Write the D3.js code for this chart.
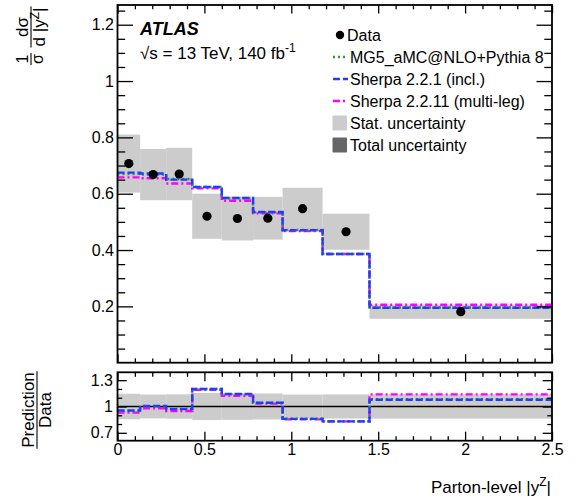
<!DOCTYPE html>
<html>
<head>
<meta charset="utf-8">
<script src="https://cdn.jsdelivr.net/npm/d3@7"></script>
<style>
  body { margin: 0; background: #fff; }
  svg { display: block; }
  text { font-family: "Liberation Sans", Arial, Helvetica, sans-serif; fill: #000; }
</style>
</head>
<body>
<svg id="chart" width="576" height="503"></svg>
<script>
// ---- values ----
const binEdges = [0, 0.13, 0.28, 0.43, 0.6, 0.78, 0.95, 1.18, 1.45, 2.5];
const dataValues = [0.707, 0.668, 0.670, 0.520, 0.512, 0.513, 0.547, 0.465, 0.181];
const statUncertainty = [0.103, 0.091, 0.093, 0.080, 0.078, 0.076, 0.074, 0.064, 0.025];
const mg5Values = [0.670, 0.668, 0.652, 0.624, 0.584, 0.534, 0.471, 0.386, 0.196];
const sherpa221Values = [0.675, 0.672, 0.650, 0.624, 0.585, 0.535, 0.470, 0.386, 0.195];
const sherpa2211Values = [0.658, 0.655, 0.636, 0.619, 0.575, 0.530, 0.467, 0.386, 0.206];
const xTickValues = [0, 0.5, 1, 1.5, 2, 2.5];
const mainYTickValues = [0.2, 0.4, 0.6, 0.8, 1, 1.2];
const ratioYTickValues = [0.7, 1, 1.3];
const legendLabels = ["Data", "MG5_aMC@NLO+Pythia 8", "Sherpa 2.2.1 (incl.)",
                      "Sherpa 2.2.11 (multi-leg)", "Stat. uncertainty", "Total uncertainty"];

// ---- layout ----
const L = 117.5, R = 552;
const mainTop = 5, mainBottom = 362.7;
const ratioTop = 372.3, ratioBottom = 440.7;

const svg = d3.select("#chart");

const x = d3.scaleLinear().domain([0, 2.5]).range([L, R]);
const y = d3.scaleLinear().domain([0, 1.27]).range([mainBottom, mainTop]);
const yr = d3.scaleLinear().domain([0.61, 1.39]).range([ratioBottom, ratioTop]);

const bins = dataValues.map((v, i) => ({
  lo: binEdges[i], hi: binEdges[i + 1], mid: (binEdges[i] + binEdges[i + 1]) / 2,
  v, err: statUncertainty[i]
}));

const series = [
  { name: "sherpa2211", values: sherpa2211Values, color: "#ff00ff", dash: "7,3,2,3" },
  { name: "mg5", values: mg5Values, color: "#2f9a2f", dash: "2,3" },
  { name: "sherpa221", values: sherpa221Values, color: "#1f3cff", dash: "7,3" }
];

function stepPoints(values) {
  const pts = values.map((v, i) => [binEdges[i], v]);
  pts.push([binEdges[binEdges.length - 1], values[values.length - 1]]);
  return pts;
}

// ---- main panel ----
const main = svg.append("g");
main.selectAll("rect.stat").data(bins).join("rect")
  .attr("class", "stat")
  .attr("x", d => x(d.lo)).attr("width", d => x(d.hi) - x(d.lo))
  .attr("y", d => y(d.v + d.err)).attr("height", d => y(d.v - d.err) - y(d.v + d.err))
  .attr("fill", "#cccccc");

const mainLine = d3.line().x(d => x(d[0])).y(d => y(d[1])).curve(d3.curveStepAfter);
series.forEach(s => {
  main.append("path").attr("d", mainLine(stepPoints(s.values)))
    .attr("fill", "none").attr("stroke", s.color).attr("stroke-width", 2.4)
    .attr("stroke-dasharray", s.dash);
});

main.selectAll("circle.pt").data(bins).join("circle")
  .attr("class", "pt")
  .attr("cx", d => x(d.mid)).attr("cy", d => y(d.v)).attr("r", 4.6).attr("fill", "#000");

// ---- ratio panel ----
const ratio = svg.append("g");
ratio.selectAll("rect.band").data(bins).join("rect")
  .attr("x", d => x(d.lo)).attr("width", d => x(d.hi) - x(d.lo))
  .attr("y", d => yr(1 + d.err / d.v)).attr("height", d => yr(1 - d.err / d.v) - yr(1 + d.err / d.v))
  .attr("fill", "#cccccc");

ratio.append("line").attr("x1", x(0)).attr("x2", x(2.5))
  .attr("y1", yr(1)).attr("y2", yr(1)).attr("stroke", "#000").attr("stroke-width", 1.4);

const ratioLine = d3.line().x(d => x(d[0])).y(d => yr(d[1])).curve(d3.curveStepAfter);
series.forEach(s => {
  const r = s.values.map((v, i) => v / dataValues[i]);
  ratio.append("path").attr("d", ratioLine(stepPoints(r)))
    .attr("fill", "none").attr("stroke", s.color).attr("stroke-width", 2.4)
    .attr("stroke-dasharray", s.dash);
});

// ---- axes ----
const minor = (lo, hi, step, majors) =>
  d3.range(Math.round(lo / step), Math.round(hi / step) + 1).map(k => +(k * step).toFixed(4))
    .filter(v => !majors.some(m => Math.abs(m - v) < 1e-6));

const xMinor = minor(0, 2.5, 0.1, xTickValues);
const yMinor = minor(0.05, 1.25, 0.05, mainYTickValues);
const yrMinor = minor(0.8, 1.2, 0.1, ratioYTickValues);
const fmt = d3.format("~g");

function addAxis(gen, tx, ty) {
  const g = svg.append("g").attr("transform", `translate(${tx},${ty})`).call(gen);
  g.select(".domain").remove();
  g.selectAll(".tick line").attr("stroke", "#000").attr("stroke-width", 1.3);
  g.selectAll("text").attr("font-family", "Liberation Sans, Arial, sans-serif").attr("fill", "#000");
  return g;
}

// main panel ticks
addAxis(d3.axisBottom(x).tickValues(xTickValues).tickSize(-8.5).tickFormat(""), 0, mainBottom);
addAxis(d3.axisBottom(x).tickValues(xMinor).tickSize(-4.3).tickFormat(""), 0, mainBottom);
addAxis(d3.axisTop(x).tickValues(xTickValues).tickSize(-8.5).tickFormat(""), 0, mainTop);
addAxis(d3.axisTop(x).tickValues(xMinor).tickSize(-4.3).tickFormat(""), 0, mainTop);
addAxis(d3.axisLeft(y).tickValues(mainYTickValues).tickSize(-15.5).tickPadding(3.5).tickFormat(fmt), L, 0)
  .attr("font-size", 16);
addAxis(d3.axisLeft(y).tickValues(yMinor).tickSize(-7.7).tickFormat(""), L, 0);
addAxis(d3.axisRight(y).tickValues(mainYTickValues).tickSize(-15.5).tickFormat(""), R, 0);
addAxis(d3.axisRight(y).tickValues(yMinor).tickSize(-7.7).tickFormat(""), R, 0);

// ratio panel ticks
addAxis(d3.axisBottom(x).tickValues(xTickValues).tickSize(-9).tickPadding(3).tickFormat(fmt), 0, ratioBottom)
  .attr("font-size", 16);
addAxis(d3.axisBottom(x).tickValues(xMinor).tickSize(-4.5).tickFormat(""), 0, ratioBottom);
addAxis(d3.axisTop(x).tickValues(xTickValues).tickSize(-9).tickFormat(""), 0, ratioTop);
addAxis(d3.axisTop(x).tickValues(xMinor).tickSize(-4.5).tickFormat(""), 0, ratioTop);
addAxis(d3.axisLeft(yr).tickValues(ratioYTickValues).tickSize(-9.3).tickPadding(4.5).tickFormat(fmt), L, 0)
  .attr("font-size", 16);
addAxis(d3.axisLeft(yr).tickValues(yrMinor).tickSize(-4.7).tickFormat(""), L, 0);
addAxis(d3.axisRight(yr).tickValues(ratioYTickValues).tickSize(-9.3).tickFormat(""), R, 0);
addAxis(d3.axisRight(yr).tickValues(yrMinor).tickSize(-4.7).tickFormat(""), R, 0);

// frames
[[mainTop, mainBottom], [ratioTop, ratioBottom]].forEach(([t, b]) => {
  svg.append("rect").attr("x", L).attr("y", t).attr("width", R - L).attr("height", b - t)
    .attr("fill", "none").attr("stroke", "#000").attr("stroke-width", 1.8);
});

// ---- labels ----
svg.append("text").attr("x", 140).attr("y", 35)
  .attr("font-size", 18).attr("font-weight", "bold").attr("font-style", "italic").text("ATLAS");

const lumi = svg.append("text").attr("x", 140).attr("y", 59).attr("font-size", 17);
lumi.append("tspan").text("√s = 13 TeV, 140 fb");
lumi.append("tspan").attr("dy", -7).attr("font-size", 12).text("-1");

// legend
const leg = svg.append("g");
const rowY = i => 35 + i * 22;
leg.append("circle").attr("cx", 340).attr("cy", rowY(0)).attr("r", 4.2).attr("fill", "#000");
[series[1], series[2], series[0]].forEach((s, k) => {
  leg.append("line").attr("x1", 333).attr("x2", 348).attr("y1", rowY(k + 1)).attr("y2", rowY(k + 1))
    .attr("stroke", s.color).attr("stroke-width", 2.4).attr("stroke-dasharray", s.dash);
});
leg.append("rect").attr("x", 332.5).attr("y", rowY(4) - 7.5).attr("width", 14.5).attr("height", 15)
  .attr("fill", "#cccccc").attr("rx", 1);
leg.append("rect").attr("x", 332.5).attr("y", rowY(5) - 7.5).attr("width", 14.5).attr("height", 15)
  .attr("fill", "#666666").attr("rx", 1);
legendLabels.forEach((t, i) => {
  leg.append("text").attr("x", i === 0 ? 347 : 350).attr("y", rowY(i)).attr("dy", "0.36em")
    .attr("font-size", 16).text(t);
});

// fraction helper for rotated titles
function fraction(g, cx, num, den, size, gap) {
  const n = g.append("text").attr("x", cx).attr("y", -gap[0]).attr("text-anchor", "middle").attr("font-size", size);
  num(n);
  const d = g.append("text").attr("x", cx).attr("y", gap[1]).attr("text-anchor", "middle").attr("font-size", size);
  den(d);
  const w = Math.max(n.node().getComputedTextLength(), d.node().getComputedTextLength()) + 2;
  g.append("line").attr("x1", cx - w / 2).attr("x2", cx + w / 2).attr("y1", 0).attr("y2", 0)
    .attr("stroke", "#000").attr("stroke-width", 1.1);
}

// main y title: (1/σ) dσ/d|y^Z|
const yTitle = svg.append("g").attr("transform", "translate(31,59) rotate(-90)");
fraction(yTitle, 0, t => t.text("1"), t => t.text("σ"), 16, [3, 12]);
fraction(yTitle, 32, t => t.text("dσ"), t => {
  t.append("tspan").text("d |y");
  t.append("tspan").attr("dy", -6).attr("font-size", 12).text("Z");
  t.append("tspan").attr("dy", 6).text("|");
}, 17, [3, 14]);

// ratio y title
const rTitle = svg.append("g").attr("transform", "translate(37,410) rotate(-90)");
fraction(rTitle, 0, t => t.text("Prediction"), t => t.text("Data"), 17, [3, 14]);

// x title
const xt = svg.append("text").attr("x", 551).attr("y", 493).attr("text-anchor", "end").attr("font-size", 17);
xt.append("tspan").text("Parton-level |y");
xt.append("tspan").attr("dy", -7).attr("font-size", 12).text("Z");
xt.append("tspan").attr("dy", 7).text("|");
</script>
</body>
</html>
